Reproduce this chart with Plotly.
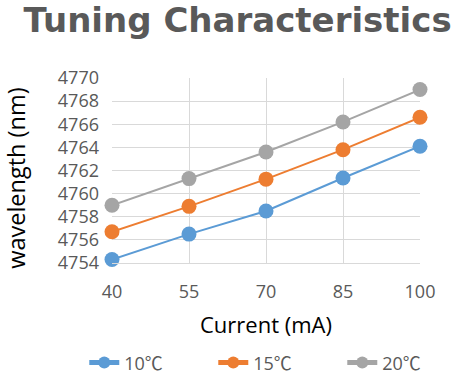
import plotly.graph_objects as go

current = [40, 55, 70, 85, 100]
wl_10 = [4754.3, 4756.5, 4758.5, 4761.35, 4764.1]
wl_15 = [4756.7, 4758.9, 4761.25, 4763.8, 4766.6]
wl_20 = [4759.0, 4761.3, 4763.6, 4766.2, 4769.0]
series_names = ["10℃", "15℃", "20℃"]
colors = ["#5B9BD5", "#ED7D31", "#A5A5A5"]
y_ticks = list(range(4754, 4771, 2))

fig = go.Figure()
for name, ys, c in zip(series_names, [wl_10, wl_15, wl_20], colors):
    fig.add_trace(go.Scatter(
        x=current, y=ys, name=name, mode="lines+markers",
        line=dict(color=c, width=2),
        marker=dict(color=c, size=15),
        cliponaxis=False,
    ))

fig.update_layout(
    width=464, height=383,
    margin=dict(l=112, r=44, t=78, b=120, autoexpand=False),
    paper_bgcolor="white", plot_bgcolor="white",
    font=dict(family="Open Sans, sans-serif", color="#595959"),
    title=dict(text="<b>Tuning Characteristics</b>", x=0.512, xanchor="center",
               y=0.979, yanchor="top",
               font=dict(family="DejaVu Sans, sans-serif", size=34, color="#595959")),
    xaxis=dict(range=[40, 100], tickvals=current, ticktext=[str(v) for v in current],
               showgrid=True, gridcolor="#D9D9D9", gridwidth=1,
               showline=True, linecolor="#D9D9D9", zeroline=False, automargin=False,
               tickfont=dict(size=18, color="#595959"), ticklabelstandoff=12,
               title=dict(text="Current (mA)", font=dict(size=22, color="black"), standoff=16)),
    yaxis=dict(range=[4754, 4770], tickvals=y_ticks,
               showgrid=True, gridcolor="#D9D9D9", gridwidth=1,
               zeroline=False, showline=False, automargin=False,
               tickfont=dict(size=18, color="#595959"), ticklabelstandoff=12),
    annotations=[dict(text="wavelength (nm)", textangle=-90, showarrow=False,
                      xref="paper", yref="paper", x=-0.312, y=0.46,
                      xanchor="center", yanchor="middle",
                      font=dict(size=23.5, color="black"))],
    legend=dict(orientation="h", x=-0.09, xanchor="left",
                y=-0.54, yanchor="middle",
                font=dict(family="Open Sans, Noto Sans CJK SC, sans-serif", size=18, color="#595959"),
                itemsizing="constant", entrywidth=84),
)

fig.write_html("out.html", config={"displayModeBar": False},
               post_script="document.body.style.margin='0px';")
